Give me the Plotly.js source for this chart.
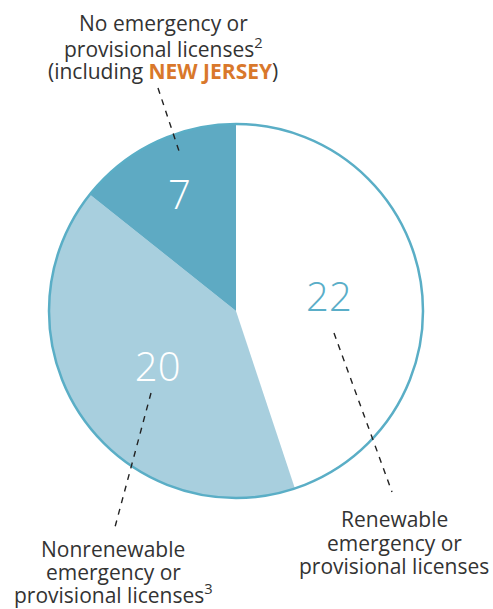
<!DOCTYPE html>
<html>
<head>
<meta charset="utf-8">
<script src="https://cdn.plot.ly/plotly-3.0.1.min.js"></script>
<style>html,body{margin:0;padding:0;background:#fff;}#chart{width:493px;height:609px;}</style>
</head>
<body>
<div id="chart"></div>
<script>
const categories = ["Renewable emergency or provisional licenses", "Nonrenewable emergency or provisional licenses", "No emergency or provisional licenses"];
const stateCounts = [22, 20, 7];
const sliceColors = ["#ffffff", "#a8cfde", "#5eaac3"];
const numberColors = ["#5aaec8", "#ffffff", "#ffffff"];
const topLabelLines = ["No emergency or", "provisional licenses<sup>2</sup>", "(including <b><span style='color:#d9782b'>NEW JERSEY</span></b>)"];
const leftLabelLines = ["Nonrenewable", "emergency or", "provisional licenses<sup>3</sup>"];
const rightLabelLines = ["Renewable", "emergency or", "provisional licenses"];

const FONT = "Open Sans, sans-serif";
const TEAL = "#5aaec6";
const DARK = "#333333";
const domain = {x: [49/493, 423/493], y: [1 - 498/609, 1 - 124/609]};

const pie = {
  type: "pie",
  values: stateCounts,
  labels: categories,
  sort: false,
  direction: "clockwise",
  rotation: 0,
  marker: {colors: sliceColors, line: {width: 0}},
  textinfo: "value",
  textposition: "inside",
  insidetextorientation: "horizontal",
  insidetextfont: {family: FONT, size: 40, color: numberColors, weight: 300},
  hoverinfo: "none",
  showlegend: false,
  domain: domain
};
const outline = {
  type: "pie",
  values: [1],
  labels: ["outline"],
  marker: {colors: ["rgba(0,0,0,0)"], line: {width: 2.5, color: TEAL}},
  textinfo: "none",
  hoverinfo: "none",
  showlegend: false,
  domain: domain
};

function block(lines, cx, centersPx) {
  return lines.map((t, i) => ({
    xref: "paper", yref: "paper", x: cx / 493, y: 1 - centersPx[i] / 609,
    xanchor: "center", yanchor: "middle", showarrow: false, align: "center",
    font: {size: 21, color: DARK, family: FONT}, text: t
  }));
}

const dash = {color: "#222", width: 1.4, dash: "6px,6px"};
const layout = {
  width: 493, height: 609,
  margin: {l: 0, r: 0, t: 0, b: 0},
  paper_bgcolor: "#fff",
  font: {family: FONT, color: DARK},
  showlegend: false,
  annotations: [
    ...block(topLabelLines, 163, [23, 47, 71]),
    ...block(leftLabelLines, 113, [549, 572, 593]),
    ...block(rightLabelLines, 394, [519, 543, 566])
  ],
  shapes: [
    {type: "line", xref: "paper", yref: "paper", x0: 158/493, y0: 1 - 88/609, x1: 180/493, y1: 1 - 154/609, line: dash},
    {type: "line", xref: "paper", yref: "paper", x0: 334/493, y0: 1 - 333/609, x1: 392/493, y1: 1 - 492/609, line: dash},
    {type: "line", xref: "paper", yref: "paper", x0: 151/493, y0: 1 - 393/609, x1: 115/493, y1: 1 - 527/609, line: dash}
  ]
};

Plotly.newPlot("chart", [pie, outline], layout, {displayModeBar: false, staticPlot: true});
</script>
</body>
</html>
